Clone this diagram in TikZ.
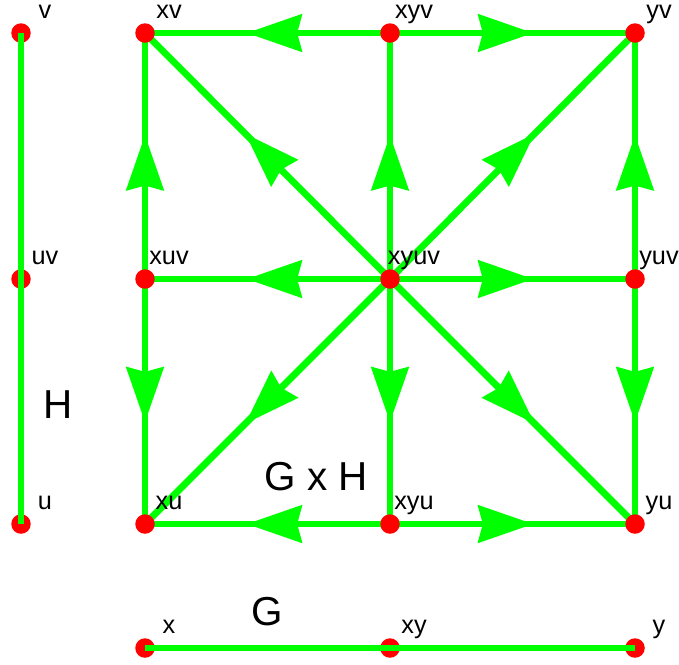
\documentclass[tikz,border=0pt]{standalone}
\usepackage{fontspec}
\setmainfont{Liberation Sans}
\usetikzlibrary{arrows.meta, decorations.markings, backgrounds, calc}
\definecolor{cEdge}{RGB}{0,255,0}
\definecolor{cVert}{RGB}{255,0,0}
\tikzset{
	vtx/.style  ={circle, fill=cVert, minimum size=0.39cm, inner sep=0pt},
	lbl/.style  ={anchor=base, inner sep=0pt, font=\fontsize{14.4}{17}\selectfont},
	big/.style  ={anchor=base, inner sep=0pt, font=\fontsize{23}{27}\selectfont},
	gline/.style={cEdge, line width=0.135cm},
	bigtip/.tip ={Stealth[length=1.1cm, width=0.74cm, inset=0.09cm]},
	arr/.style  ={gline, postaction={decorate}, decoration={markings, mark=at position #1 with {\arrow[cEdge]{bigtip}}}},
}
\begin{document}
\begin{tikzpicture}[x=0.02cm, y=-0.02cm]
	\useasboundingbox (0,0) rectangle (679,664);
	% ---- H ----
	\node[vtx] (v)  at (21,33)  {};
	\node[vtx] (uv) at (21,279) {};
	\node[vtx] (u)  at (21,524) {};
	\draw[gline] (v.center) -- (uv.center) -- (u.center);
	\node[big] (H-t) at (58,418) {H};
	% ---- G ----
	\node[vtx] (x)  at (145,648) {};
	\node[vtx] (xy) at (390,648) {};
	\node[vtx] (y)  at (635,648) {};
	\draw[gline] (x.center) -- (xy.center) -- (y.center);
	\node[big] (G-t) at (267,625) {G};
	% ---- G x H ----
	\node[vtx] (xv)   at (145,33)  {};
	\node[vtx] (xyv)  at (390,33)  {};
	\node[vtx] (yv)   at (635,33)  {};
	\node[vtx] (xuv)  at (145,279) {};
	\node[vtx] (xyuv) at (390,279) {};
	\node[vtx] (yuv)  at (635,279) {};
	\node[vtx] (xu)   at (145,524) {};
	\node[vtx] (xyu)  at (390,524) {};
	\node[vtx] (yu)   at (635,524) {};
	\begin{scope}[on background layer]
		\foreach \a/\b in {xyv/xv, xyv/yv, xuv/xv, xuv/xu, yuv/yv, yuv/yu, xyu/xu, xyu/yu,
			xyuv/xyv, xyuv/xyu, xyuv/xuv, xyuv/yuv}
			\draw[arr=0.585] (\a.center) -- (\b.center);
		\foreach \b in {xv, yv, xu, yu}
			\draw[arr=0.59] (xyuv.center) -- (\b.center);
	\end{scope}
	\node[big] (GH-t) at (316,490) {G x H};
	% labels
	\foreach \n in {v, uv, u, x, xy, y, xv, xyv, yv, xuv, xyuv, yuv, xu, xyu, yu}
		\node[lbl] (\n-l) at ($(\n)+(24,-15)$) {\n};
\end{tikzpicture}
\end{document}
